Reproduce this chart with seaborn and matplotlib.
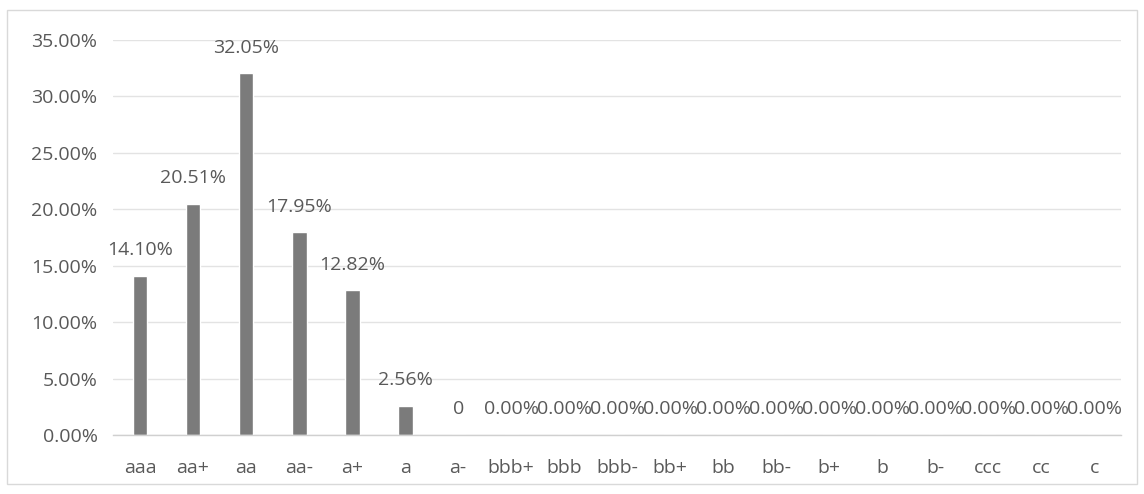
import matplotlib
matplotlib.use("Agg")
import matplotlib.pyplot as plt
import seaborn as sns
import pandas as pd
from matplotlib.ticker import FuncFormatter, MultipleLocator
from matplotlib.patches import Rectangle

# Rating distribution (share of issuers, in percent)
ratings = ["aaa", "aa+", "aa", "aa-", "a+", "a", "a-", "bbb+", "bbb", "bbb-",
           "bb+", "bb", "bb-", "b+", "b", "b-", "ccc", "cc", "c"]
shares = [14.10, 20.51, 32.05, 17.95, 12.82, 2.56, 0, 0, 0, 0,
          0, 0, 0, 0, 0, 0, 0, 0, 0]
# categories whose data label is shown as a plain number
plain_labels = ["a-"]

y_ticks = [0, 5, 10, 15, 20, 25, 30, 35]

df = pd.DataFrame({"rating": ratings, "share": shares})

sns.set_theme(style="white")
plt.rcParams["font.family"] = ["Open Sans", "DejaVu Sans"]

TEXT = "#595959"
BAR = "#7b7b7b"
FS = 14

fig = plt.figure(figsize=(11.44, 4.94), dpi=100)
ax = fig.add_axes([0.0992, 0.1194, 0.8807, 0.7996])

sns.barplot(data=df, x="rating", y="share", color=BAR, saturation=1,
            width=0.28, ax=ax, order=ratings)

ax.set_ylim(y_ticks[0], y_ticks[-1])
ax.set_xlim(-0.5, len(ratings) - 0.5)
ax.yaxis.set_major_locator(MultipleLocator(5))
ax.yaxis.set_major_formatter(FuncFormatter(lambda v, _: f"{v:.2f}%"))
ax.grid(axis="y", color="#e3e3e3", linewidth=1)
ax.set_axisbelow(True)
for side in ["top", "right", "left"]:
    ax.spines[side].set_visible(False)
ax.spines["bottom"].set_color("#d0d0d0")
ax.spines["bottom"].set_linewidth(1)

ax.set_xlabel("")
ax.set_ylabel("")
ax.tick_params(axis="y", length=0, pad=11.5, labelsize=FS, labelcolor=TEXT)
ax.tick_params(axis="x", length=0, pad=17.5, labelsize=FS, labelcolor=TEXT)

# data labels above each bar
for patch, name, val in zip(ax.patches, ratings, shares):
    text = f"{val:g}" if name in plain_labels else f"{val:.2f}%"
    ax.annotate(text, (patch.get_x() + patch.get_width() / 2, patch.get_height()),
                xytext=(0, 18.5), textcoords="offset points",
                ha="center", va="center", fontsize=FS, color=TEXT)

# chart area border
fig.patches.append(Rectangle((7 / 1144, 1 - 484 / 494), 1130 / 1144, 474 / 494,
                             transform=fig.transFigure, fill=False,
                             edgecolor="#d9d9d9", linewidth=1))

fig.savefig("out.png", dpi=100, facecolor="white")
